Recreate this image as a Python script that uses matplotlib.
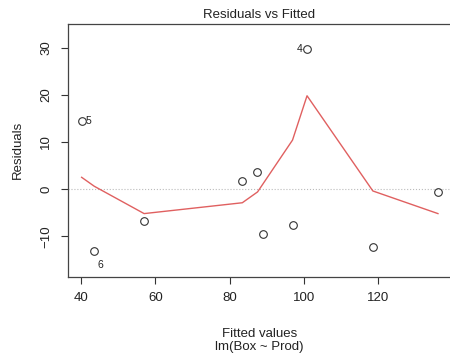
import numpy as np
import matplotlib.pyplot as plt

plt.rcParams['font.family'] = ['Liberation Sans', 'DejaVu Sans']

# fitted values and residuals
fitted = [40.2, 43.4, 57.0, 83.4, 87.4, 89.0, 96.9, 100.8, 118.5, 136.0]
resid = [14.4, -13.2, -6.8, 1.8, 3.7, -9.5, -7.6, 29.7, -12.2, -0.6]

# smoother (red line)
smooth_x = [40.2, 43.6, 57.0, 83.4, 87.5, 96.9, 100.8, 118.5, 136.0]
smooth_y = [2.5, 0.6, -5.2, -2.9, -0.6, 10.4, 19.8, -0.4, -5.2]

# labelled points: index, label, offset (pt), alignment
labels = [(0, '5', (3, 0), 'left', 'center'),
          (7, '4', (-3, 0), 'right', 'center'),
          (1, '6', (3, -6), 'left', 'top')]

fig = plt.figure(figsize=(4.5, 3.53), dpi=100)
ax = fig.add_axes([0.15, 0.216, 0.853, 0.717])

ax.axhline(0, color='#bbbbbb', lw=0.8, ls=':', zorder=1)
ax.plot(smooth_x, smooth_y, color='#e06060', lw=1.0, zorder=2)
ax.plot(fitted, resid, 'o', mfc='none', mec='#333333', ms=5.5, mew=0.8, zorder=3)

for i, txt, off, ha, va in labels:
    ax.annotate(txt, (fitted[i], resid[i]), xytext=off, textcoords='offset points',
                ha=ha, va=va, fontsize=7.5, color='#222222')

ax.set_xlim(36.4, 139.6)
ax.set_ylim(-18.6, 35.1)
ax.set_xticks([40, 60, 80, 100, 120])
ax.set_yticks([-10, 0, 10, 20, 30])
ax.tick_params(axis='both', direction='out', length=5, width=0.8, labelsize=9.5,
               color='#333333', labelcolor='#222222', pad=6)
for lab in ax.get_yticklabels():
    lab.set_rotation(90)
    lab.set_va('center')
for s in ['left', 'bottom', 'top']:
    ax.spines[s].set_color('#444444')
    ax.spines[s].set_linewidth(0.9)
ax.spines['right'].set_visible(False)

ax.set_title('Residuals vs Fitted', fontsize=9.5, pad=4, color='#222222')
ax.set_xlabel('Fitted values\nlm(Box ~ Prod)', fontsize=9.5, labelpad=17,
              color='#222222', linespacing=1.15)
ax.set_ylabel('Residuals', fontsize=9.5, labelpad=12, color='#222222')

fig.savefig('out.png', dpi=100)
